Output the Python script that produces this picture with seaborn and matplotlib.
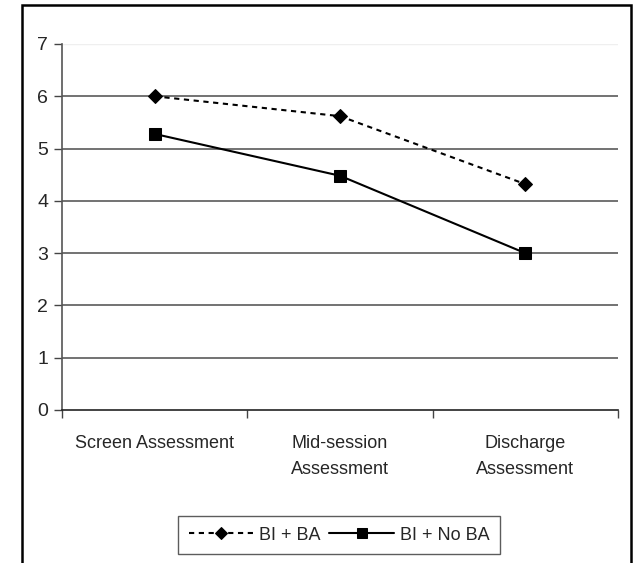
import matplotlib
matplotlib.use("Agg")
import matplotlib.pyplot as plt
import matplotlib.font_manager as fm
from matplotlib.patches import Rectangle
import seaborn as sns
import pandas as pd

categories = ["Screen Assessment", "Mid-session\nAssessment", "Discharge\nAssessment"]
series_names = ["BI + BA", "BI + No BA"]
bi_ba = [6.0, 5.62, 4.32]
bi_no_ba = [5.28, 4.48, 3.0]
y_ticks = [0, 1, 2, 3, 4, 5, 6, 7]

sns.set_theme(style="white")
names = {f.name for f in fm.fontManager.ttflist}
fam = "Liberation Sans Narrow" if "Liberation Sans Narrow" in names else "Liberation Sans"
plt.rcParams["font.family"] = [fam, "DejaVu Sans"]
FS = 13

df = pd.DataFrame({
    "cat": categories * 2,
    "val": bi_ba + bi_no_ba,
    "series": [series_names[0]] * 3 + [series_names[1]] * 3,
})

fig = plt.figure(figsize=(6.36, 5.63), dpi=100)
fig.patch.set_facecolor("white")
ax = fig.add_axes([62 / 636, 1 - 410 / 563, (618 - 62) / 636, (410 - 44) / 563])

# gridlines
for y in y_ticks[1:-1]:
    ax.axhline(y, color="#5a5a5a", lw=1.2, zorder=1)
ax.axhline(7, color="#efefef", lw=1.0, zorder=1)

d1 = df[df.series == series_names[0]]
d2 = df[df.series == series_names[1]]
sns.lineplot(data=d1, x="cat", y="val", ax=ax, color="black", lw=1.5,
             linestyle=(0, (2.5, 2.2)), marker="D", markersize=7.5,
             markeredgecolor="black", label=series_names[0], sort=False, zorder=3)
sns.lineplot(data=d2, x="cat", y="val", ax=ax, color="black", lw=1.5,
             linestyle="-", marker="s", markersize=8,
             markeredgecolor="black", label=series_names[1], sort=False, zorder=3)

ax.set_xlim(-0.5, 2.5)
ax.set_ylim(0, 7)
ax.set_yticks(y_ticks)
ax.set_yticklabels([str(t) for t in y_ticks], fontsize=FS + 1)
ax.set_xticks([0, 1, 2])
ax.set_xticklabels(categories, fontsize=FS, linespacing=1.7)
ax.set_xticks([-0.5, 0.5, 1.5, 2.5], minor=True)
ax.tick_params(axis="x", which="major", length=0, pad=18)
ax.tick_params(axis="x", which="minor", length=6, width=1, color="#444444", direction="out", bottom=True)
ax.tick_params(axis="y", length=6, width=1, color="#444444", direction="out", left=True, pad=4)
ax.set_xlabel("")
ax.set_ylabel("")
for s in ["top", "right"]:
    ax.spines[s].set_visible(False)
ax.spines["left"].set_color("#555555")
ax.spines["bottom"].set_color("#222222")
for s in ["left", "bottom"]:
    ax.spines[s].set_linewidth(1.2)

leg = ax.legend(loc="center", bbox_to_anchor=(339 / 636, 1 - 535 / 563),
                bbox_transform=fig.transFigure, ncol=2, frameon=True,
                fontsize=FS, handlelength=3.6, handletextpad=0.3,
                columnspacing=0.5, borderpad=0.6, fancybox=False,
                markerscale=0.85)
leg.get_frame().set_edgecolor("#333333")
leg.get_frame().set_linewidth(1.0)

fig.patches.append(Rectangle((22 / 636, -0.1), (631 - 22) / 636, 1 - 5 / 563 + 0.1,
                             transform=fig.transFigure, fill=False,
                             edgecolor="black", lw=1.8, zorder=10))

fig.savefig("out.png", dpi=100, facecolor="white")
